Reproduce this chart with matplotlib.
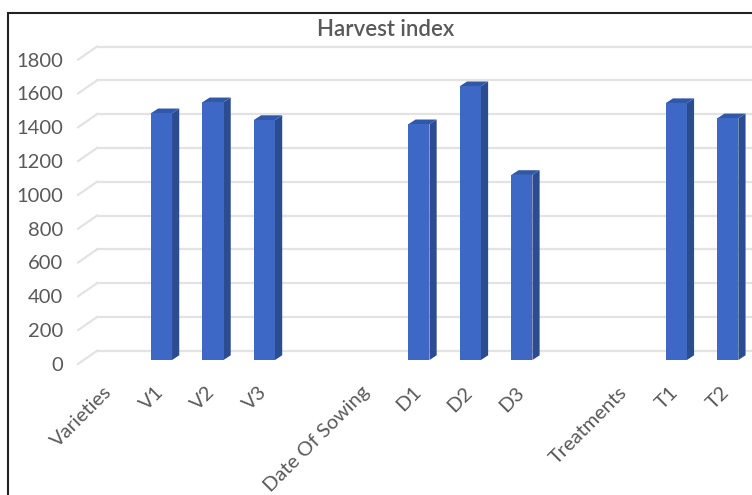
import numpy as np
import matplotlib
matplotlib.use("Agg")
import matplotlib.pyplot as plt
import matplotlib.transforms as mtransforms
from matplotlib.patches import Polygon, Rectangle

plt.rcParams['font.family'] = ['Lato', 'DejaVu Sans']

# category axis, blank slots separate the three groups
categories = ["Varieties", "V1", "V2", "V3", "",
              "Date Of Sowing", "D1", "D2", "D3", "",
              "Treatments", "T1", "T2"]
harvest = [0, 1460, 1525, 1420, 0,
           0, 1395, 1620, 1095, 0,
           0, 1520, 1430]
y_ticks = [0, 200, 400, 600, 800, 1000, 1200, 1400, 1600, 1800]

front_col = '#3d68c6'
side_col = '#2b4c90'
top_col = '#3058a8'
grid_col = '#e3e3e3'
text_col = '#595959'

# fake 3D geometry (data units)
bar_w = 0.41
depth_x = 0.14
depth_y = 28
drop = 55          # bars sit in front of the back wall
wall_x0 = -0.25
stub_x = 0.37
stub_y = 78

fig = plt.figure(figsize=(7.52, 4.95), dpi=100)
ax = fig.add_axes([0.0915, 0.2505, 0.979, 0.6897])
ax.set_xlim(-0.8, 13.5)
ax.set_ylim(-120, 1900)
for s in ax.spines.values():
    s.set_visible(False)

# back wall gridlines plus the short side-wall stubs
for t in y_ticks:
    ax.plot([wall_x0, 14], [t, t], color=grid_col, lw=1.6, zorder=1,
            clip_on=False)
    ax.plot([wall_x0 - stub_x, wall_x0], [t - stub_y, t], color=grid_col,
            lw=1.6, zorder=1)

x = np.arange(len(categories))
for xi, v in zip(x, harvest):
    if v <= 0:
        continue
    x0, x1 = xi - bar_w / 2, xi + bar_w / 2
    yb, yt = -drop, v - drop
    ax.add_patch(Polygon([[x1, yb], [x1 + depth_x, yb + depth_y],
                          [x1 + depth_x, yt + depth_y], [x1, yt]],
                         closed=True, fc=side_col, ec='none', zorder=3))
    ax.add_patch(Polygon([[x0, yt], [x1, yt], [x1 + depth_x, yt + depth_y],
                          [x0 + depth_x, yt + depth_y]],
                         closed=True, fc=top_col, ec='none', zorder=3))
    ax.add_patch(Rectangle((x0, yb), bar_w, v, fc=front_col, ec='none',
                           zorder=4))

ax.set_yticks([t - stub_y for t in y_ticks], [str(t) for t in y_ticks])
ax.set_xticks(x, categories, rotation=45, ha='right',
              rotation_mode='anchor')
ax.tick_params(axis='y', length=0, pad=4, labelsize=14.5,
               labelcolor=text_col)
ax.tick_params(axis='x', length=0, pad=9, labelsize=14.5,
               labelcolor=text_col)
shift = mtransforms.ScaledTranslation(-5 / 72, 0, fig.dpi_scale_trans)
for lab in ax.get_xticklabels():
    lab.set_transform(lab.get_transform() + shift)

fig.text(385.5 / 752, 1 - 29 / 495, "Harvest index", ha='center',
         va='center', fontsize=16, color=text_col, fontweight='semibold')

# chart frame
fig.add_artist(Rectangle((8 / 752, -0.1), 1.2, 1 - 13 / 495 + 0.1,
                         transform=fig.transFigure, fill=False,
                         ec='#222222', lw=1.5))

fig.savefig("out.png", dpi=100)
